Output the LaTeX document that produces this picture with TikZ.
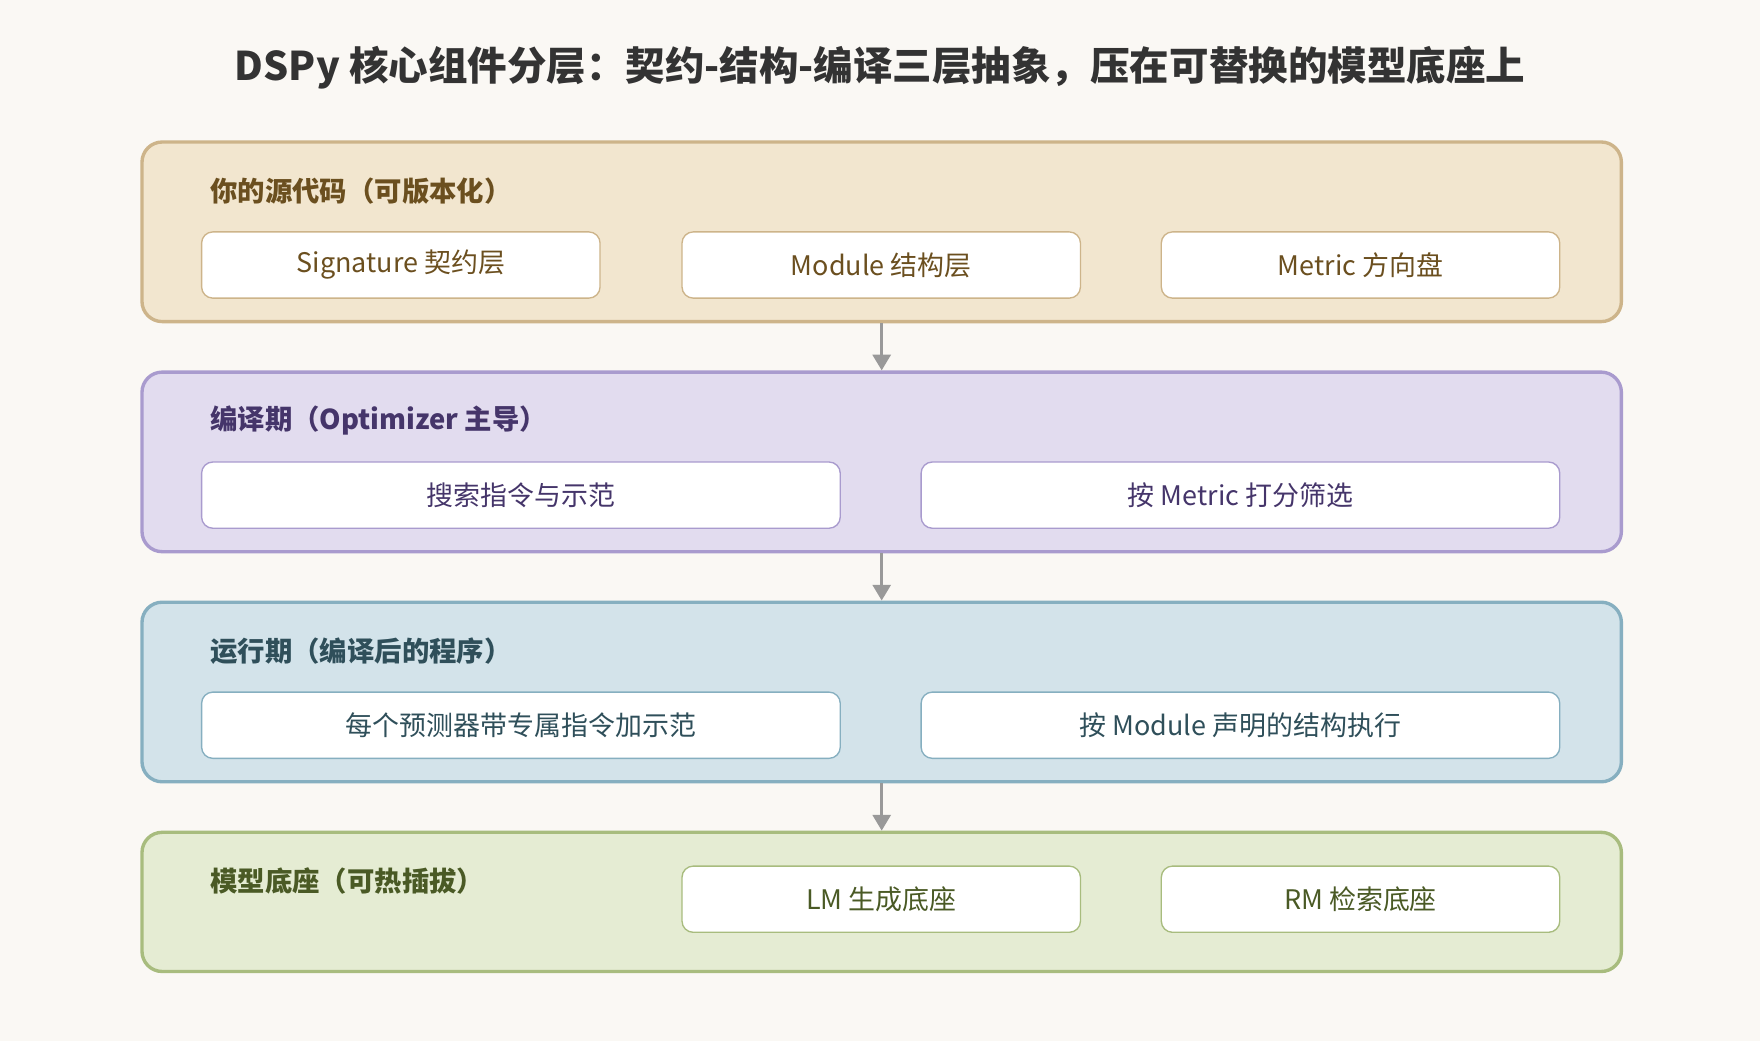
\documentclass[tikz,border=0pt]{standalone}
\usepackage{fontspec}
\setmainfont{Noto Sans CJK SC}
\usetikzlibrary{positioning,arrows.meta}
\definecolor{bgc}{HTML}{FAF8F4}
\definecolor{srcfill}{HTML}{F2E6CF}\definecolor{srcline}{HTML}{CDB48A}\definecolor{srctext}{HTML}{6B4F1F}
\definecolor{cmpfill}{HTML}{E2DCEF}\definecolor{cmpline}{HTML}{A99BCE}\definecolor{cmptext}{HTML}{45356A}
\definecolor{runfill}{HTML}{D3E3EA}\definecolor{runline}{HTML}{86AFC0}\definecolor{runtext}{HTML}{2F4F5A}
\definecolor{modfill}{HTML}{E5ECD3}\definecolor{modline}{HTML}{A8BC7E}\definecolor{modtext}{HTML}{4A5A25}
\tikzset{
  layer/.style={draw=#1, line width=1.5pt, rounded corners=9pt, anchor=north west},
  head/.style={anchor=west, inner sep=0pt, font=\fontsize{12.2}{14}\selectfont\bfseries},
  item/.style={draw=#1, fill=white, line width=0.6pt, rounded corners=5pt,
    minimum height=29.5pt, anchor=north west, font=\fontsize{12}{14}\selectfont},
  flowarrow/.style={-{Triangle[length=7pt,width=8pt]}, draw=gray!80, line width=1.3pt}
}
\begin{document}
\begin{tikzpicture}[x=0.5pt,y=-0.5pt]
	\fill[bgc] (0,0) rectangle (1568,927);
	\useasboundingbox (0,0) rectangle (1568,927);
	\node[font=\fontsize{17.6}{20}\selectfont\bfseries, text=black!80] (title) at (784,60) {DSPy 核心组件分层：契约-结构-编译三层抽象，压在可替换的模型底座上};
	% layer 1
	\node[layer=srcline, fill=srcfill, minimum width=659pt, minimum height=80pt] (src) at (125,125) {};
	\node[head, text=srctext] (srch) at (187,170) {你的源代码（可版本化）};
	\node[item=srcline, minimum width=177.5pt, text=srctext] (sig) at (179,206) {Signature 契约层};
	\node[item=srcline, minimum width=177.5pt, text=srctext] (mod) at (607,206) {Module 结构层};
	\node[item=srcline, minimum width=177.5pt, text=srctext] (met) at (1034,206) {Metric 方向盘};
	% layer 2
	\node[layer=cmpline, fill=cmpfill, minimum width=659pt, minimum height=80pt] (cmp) at (125,330) {};
	\node[head, text=cmptext] (cmph) at (187,375) {编译期（Optimizer 主导）};
	\node[item=cmpline, minimum width=284.5pt, text=cmptext] (srch2) at (179,411) {搜索指令与示范};
	\node[item=cmpline, minimum width=284.5pt, text=cmptext] (scor) at (820,411) {按 Metric 打分筛选};
	% layer 3
	\node[layer=runline, fill=runfill, minimum width=659pt, minimum height=80pt] (run) at (125,535) {};
	\node[head, text=runtext] (runh) at (187,580) {运行期（编译后的程序）};
	\node[item=runline, minimum width=284.5pt, text=runtext] (pred) at (179,616) {每个预测器带专属指令加示范};
	\node[item=runline, minimum width=284.5pt, text=runtext] (exec) at (820,616) {按 Module 声明的结构执行};
	% layer 4
	\node[layer=modline, fill=modfill, minimum width=659pt, minimum height=62pt] (base) at (125,740) {};
	\node[head, text=modtext] (baseh) at (187,785) {模型底座（可热插拔）};
	\node[item=modline, minimum width=177.5pt, text=modtext] (lm) at (607,771) {LM 生成底座};
	\node[item=modline, minimum width=177.5pt, text=modtext] (rm) at (1034,771) {RM 检索底座};
	% arrows
	\draw[flowarrow] (src.south) -- (cmp.north);
	\draw[flowarrow] (cmp.south) -- (run.north);
	\draw[flowarrow] (run.south) -- (base.north);
\end{tikzpicture}
\end{document}
